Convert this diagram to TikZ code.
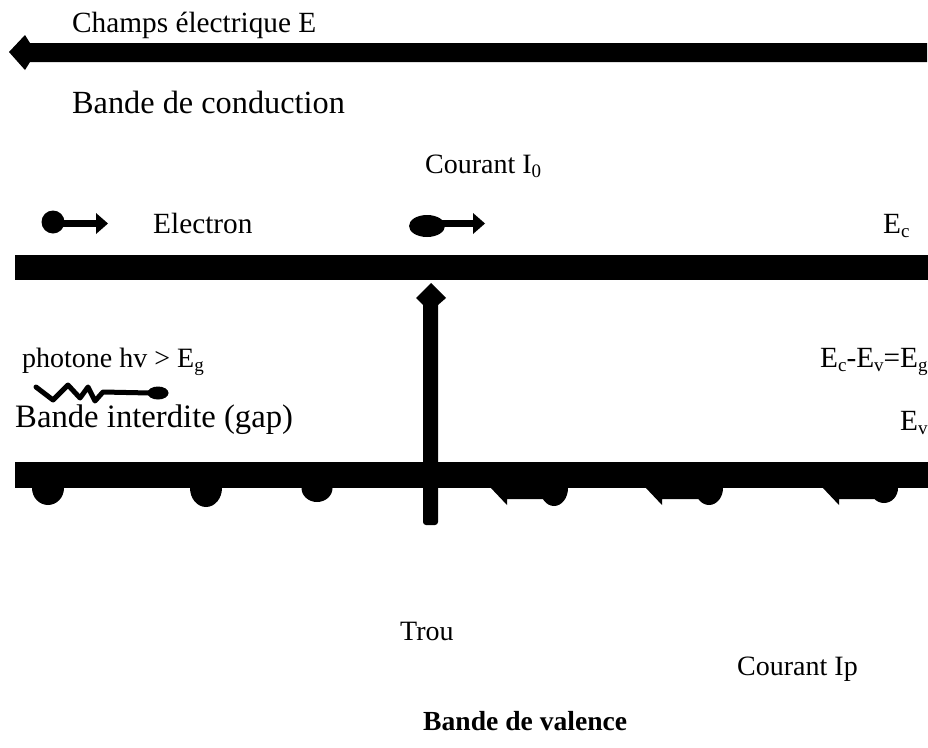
\documentclass[tikz,border=0pt]{standalone}
\usepackage{fontspec}
\setmainfont{Liberation Serif}
\newcommand\lowidx[1]{\raisebox{-4pt}{\fontsize{19}{20}\selectfont #1}}
\begin{document}
\begin{tikzpicture}[x=1pt,y=-1pt,
  lbl/.style={inner sep=0pt, anchor=base west, font=\fontsize{29.3}{34}\selectfont},
  fs/.style={font=\fontsize{#1}{#1}\selectfont},
  ink/.style={fill=black, draw=none}]
\useasboundingbox (0,0) rectangle (928,747);
% texts
\node[lbl] (champ) at (72,32) {Champs électrique E};
\node[lbl, fs=32.3] (bc) at (72,113) {Bande de conduction};
\node[lbl, fs=28] (cour0) at (425,173) {Courant I\lowidx{0}};
\node[lbl] (elec) at (153,233) {Electron};
\node[lbl] (ec) at (883,233) {E\lowidx{c}};
\node[lbl, fs=28] (phot) at (22,367) {photone hv > E\lowidx{g}};
\node[lbl] (egap) at (820,367) {E\lowidx{c}-E\lowidx{v}=E\lowidx{g}};
\node[lbl, fs=32.7] (bi) at (15,427) {Bande interdite (gap)};
\node[lbl] (ev) at (900,430) {E\lowidx{v}};
\node[lbl, fs=28] (trou) at (400,640) {Trou};
\node[lbl, fs=28] (courp) at (737,675) {Courant Ip};
\node[lbl, font=\fontsize{27.6}{32}\selectfont\bfseries] (bv) at (423,730) {Bande de valence};
% electric field arrow
\fill[ink] (9,52) -- (25,35) -- (30,43) -- (927,43) -- (927,62) -- (30,62) -- (25,70) -- cycle;
% bands
\fill[ink] (15,255) rectangle (928,280);
\fill[ink] (15,462) rectangle (928,488);
% electrons
\fill[ink] (53,222) circle (11.5pt);
\fill[ink] (60,220) rectangle (98,227);
\fill[ink] (96,213) -- (108,223.5) -- (96,234) -- cycle;
\fill[ink] (427,226) ellipse [x radius=18pt, y radius=11pt];
\fill[ink] (440,220) rectangle (475,227);
\fill[ink] (473,213) -- (485,223.5) -- (473,234) -- cycle;
% vertical arrow
\fill[ink] (431,283) -- (446,298) -- (438,305) -- (423,305) -- (416,298) -- cycle;
\fill[ink, rounded corners=3pt] (423,300) -- (423,525) -- (438,525) -- (438,300) -- cycle;
% photon
\draw[line width=5pt, line join=round, line cap=round]
  (36,387) -- (53,400) -- (68,385) -- (80,398) -- (88,387) -- (95,401) -- (103,392) -- (150,393);
\fill[ink] (158,393) ellipse [x radius=10.5pt, y radius=6.5pt];
% hanging states below valence band
\fill[ink] (48,488) ellipse [x radius=16pt, y radius=17pt];
\fill[ink] (206,488) ellipse [x radius=16pt, y radius=19pt];
\fill[ink] (317,488) ellipse [x radius=15.5pt, y radius=14pt];
\foreach \cx/\sx/\ry in {554/490/18, 709/645/17, 884/822/15} {
  \fill[ink] (\sx,487) -- ({\sx+17},505) -- ({\sx+17},499) -- (\cx,499) -- (\cx,487) -- cycle;
  \fill[ink] (\cx,488) ellipse [x radius=14pt, y radius=\ry pt];
}
\end{tikzpicture}
\end{document}
